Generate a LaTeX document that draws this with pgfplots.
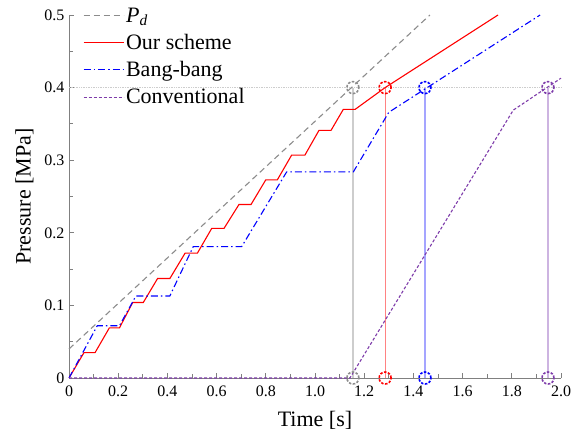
\documentclass[border=0pt]{standalone}
\usepackage{pgfplots}
\pgfplotsset{compat=1.18}
\usepackage{fontspec}
\setmainfont{Liberation Serif}
\definecolor{pdgray}{RGB}{140,140,140}
\definecolor{mypurple}{RGB}{126,60,170}
\definecolor{vgray}{RGB}{205,205,205}
\definecolor{vred}{RGB}{255,130,130}
\definecolor{vblue}{RGB}{165,165,255}
\definecolor{vpurple}{RGB}{205,180,225}
\begin{document}
\begin{tikzpicture}
\useasboundingbox (0,0) rectangle (581bp,433bp);
\begin{axis}[
  at={(69bp,55bp)}, anchor=south west,
  scale only axis, width=492bp, height=363bp,
  xmin=0, xmax=2.0, ymin=0, ymax=0.5,
  clip=false,
  axis lines=left,
  axis line style={-, draw=gray, line width=0.8bp},
  tick align=inside,
  major tick length=5bp, minor tick length=4bp,
  tick style={gray, line width=0.8bp},
  xtick={0,0.2,0.4,0.6,0.8,1.0,1.2,1.4,1.6,1.8,2.0},
  xticklabels={\textrm{0},\textrm{0.2},\textrm{0.4},\textrm{0.6},\textrm{0.8},\textrm{1.0},\textrm{1.2},\textrm{1.4},\textrm{1.6},\textrm{1.8},\textrm{2.0}},
  ytick={0,0.1,0.2,0.3,0.4,0.5},
  yticklabels={\textrm{0},\textrm{0.1},\textrm{0.2},\textrm{0.3},\textrm{0.4},\textrm{0.5}},
  minor x tick num=1, minor y tick num=1,
  ticklabel style={font=\rmfamily\fontsize{16bp}{19bp}\selectfont, black},
  xticklabel style={yshift=-4bp},
  yticklabel style={xshift=-1bp},
  xlabel={Time [s]}, ylabel={Pressure [MPa]},
  label style={font=\rmfamily\fontsize{22bp}{26bp}\selectfont},
  xlabel style={yshift=-8bp},
  ylabel style={yshift=4bp},
  legend style={at={(rel axis cs:0.028,1.026)}, anchor=north west, draw=none, fill=none,
    font=\rmfamily\fontsize{22bp}{26bp}\selectfont, inner sep=0pt, row sep=6.5bp,
    nodes={inner sep=2bp}},
  legend cell align=left,
  legend image code/.code={\draw[#1] (0bp,0bp) -- (40bp,0bp);},
]
% horizontal reference at 0.4
\addplot[vgray, densely dotted, line width=0.7bp, forget plot] coordinates {(0,0.4) (2.0,0.4)};
% vertical lines
\addplot[vgray, line width=1.5bp, forget plot] coordinates {(1.154,0) (1.154,0.4)};
\addplot[vred, line width=1bp, forget plot] coordinates {(1.285,0) (1.285,0.4)};
\addplot[vblue, line width=1.5bp, forget plot] coordinates {(1.447,0) (1.447,0.4)};
\addplot[vpurple, line width=1.5bp, forget plot] coordinates {(1.947,0) (1.947,0.4)};

\addplot[pdgray, line width=1.1bp, dash pattern=on 6bp off 4bp] coordinates {(0,0.04) (1.467,0.5)};
\addlegendentry{\textit{P}\textsubscript{\textit{d}}}

\addplot[red, line width=1.1bp] coordinates {
(0,0) (0.061,0.035) (0.106,0.035) (0.164,0.069) (0.205,0.069) (0.259,0.104) (0.302,0.104)
(0.36,0.137) (0.41,0.137) (0.472,0.172) (0.522,0.172) (0.58,0.206) (0.63,0.206)
(0.691,0.239) (0.74,0.239) (0.80,0.273) (0.847,0.273) (0.905,0.307) (0.959,0.307)
(1.016,0.341) (1.065,0.341) (1.115,0.370) (1.163,0.370) (1.285,0.4) (1.744,0.5)};
\addlegendentry{Our scheme}

\addplot[blue, line width=1.1bp, dash pattern=on 7bp off 3bp on 1.5bp off 3bp] coordinates {
(0,0) (0.115,0.072) (0.205,0.072) (0.272,0.113) (0.41,0.113) (0.505,0.181) (0.702,0.181)
(0.885,0.284) (1.156,0.284) (1.30,0.366) (1.915,0.5)};
\addlegendentry{Bang-bang}

\addplot[mypurple, line width=1.1bp, dash pattern=on 3bp off 2bp] coordinates {
(0,0) (1.142,0) (1.806,0.369) (2.0,0.413)};
\addlegendentry{Conventional}

% circles
\addplot[only marks, mark=o, mark size=6bp, forget plot, mark options={draw=pdgray, line width=1.6bp, dash pattern=on 2.5bp off 1.5bp}] coordinates {(1.154,0.4) (1.154,0)};
\addplot[only marks, mark=o, mark size=6bp, forget plot, mark options={draw=red, line width=1.6bp, dash pattern=on 2.5bp off 1.5bp}] coordinates {(1.285,0.4) (1.285,0)};
\addplot[only marks, mark=o, mark size=6bp, forget plot, mark options={draw=blue, line width=1.6bp, dash pattern=on 2.5bp off 1.5bp}] coordinates {(1.447,0.4) (1.447,0)};
\addplot[only marks, mark=o, mark size=6bp, forget plot, mark options={draw=mypurple, line width=1.6bp, dash pattern=on 2.5bp off 1.5bp}] coordinates {(1.947,0.4) (1.947,0)};
\end{axis}
\end{tikzpicture}
\end{document}
